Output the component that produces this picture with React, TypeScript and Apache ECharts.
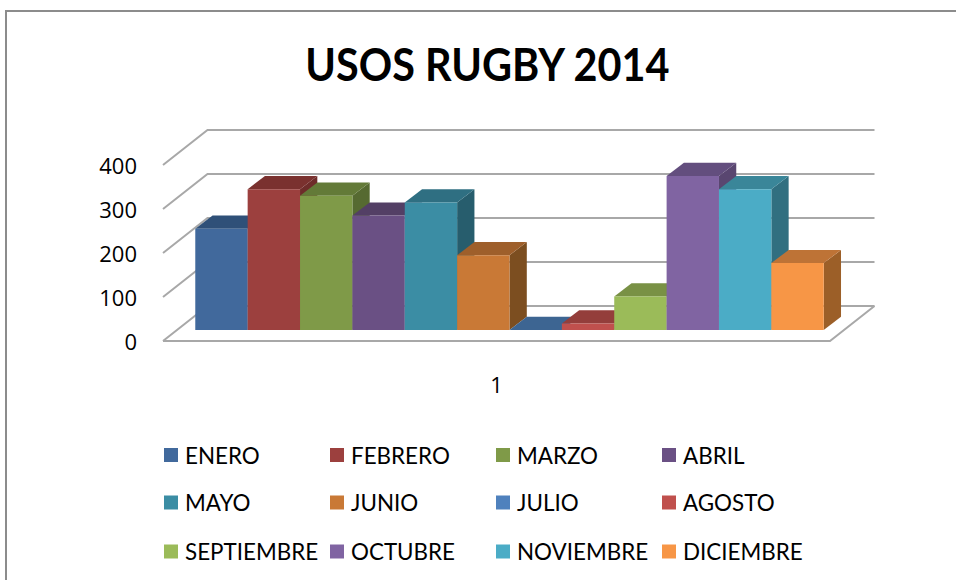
import React, { useEffect, useRef } from "react";
import * as echarts from "echarts";

const TITLE = "USOS RUGBY 2014";
const categories = ["1"];
const months = ["ENERO", "FEBRERO", "MARZO", "ABRIL", "MAYO", "JUNIO", "JULIO", "AGOSTO", "SEPTIEMBRE", "OCTUBRE", "NOVIEMBRE", "DICIEMBRE"];
const values = [230, 320, 305, 260, 290, 170, 0, 15, 76, 350, 320, 152];
const gridTicks = [0, 100, 200, 300, 400];
const frontColors = ["#41699C", "#9C403E", "#7F9A48", "#6A5084", "#3B8DA4", "#C97936", "#4F81BD", "#C0504D", "#9BBB59", "#8064A2", "#4BACC6", "#F79646"];
const topColors = ["#2F5078", "#7A312F", "#637A38", "#533F65", "#2F6F82", "#9E5F2B", "#3D6592", "#943E3B", "#799145", "#634E7E", "#3A8699", "#BE7336"];
const sideColors = ["#2E4D75", "#6E2C2A", "#566A31", "#4A385A", "#275D6D", "#7C4E20", "#35587F", "#84403D", "#6B803D", "#594670", "#316F80", "#9C5F28"];

const LEFT = 163, RIGHT = 830, BOTTOM = 341, PLOT_H = 176;
const WALL_DX = 44.5, WALL_DY = 35;
const BAR_DX = 13, BAR_DY = 11;
const DEPTH_DX = 17.3, DEPTH_DY = 13.2;
const BAR_W = 52.37;
const GRID_COLOR = "#A8A8A8";
const legendX = [164, 330, 496, 662];
const legendY = [444, 491.5, 540.5];

export default function App() {
  const ref = useRef<HTMLDivElement>(null);
  useEffect(() => {
    const chart = echarts.init(ref.current!, undefined, { renderer: "svg" });

    const wallSeries = {
      type: "custom",
      silent: true,
      data: gridTicks.map((t) => [0, t]),
      renderItem: (_p: any, api: any) => {
        const c = api.coord([0, api.value(1)]);
        const children: any[] = [
          { type: "polyline", shape: { points: [[LEFT, c[1]], [LEFT + WALL_DX, c[1] - WALL_DY], [RIGHT + WALL_DX, c[1] - WALL_DY]] }, style: { stroke: GRID_COLOR, lineWidth: 2, fill: "none" } },
        ];
        if (api.value(1) === 0) {
          children.push({ type: "polyline", shape: { points: [[LEFT, c[1]], [RIGHT, c[1]], [RIGHT + WALL_DX, c[1] - WALL_DY]] }, style: { stroke: GRID_COLOR, lineWidth: 2, fill: "none" } });
        }
        return { type: "group", children };
      },
    };

    const barSeries = months.map((name, i) => ({
      type: "custom",
      name,
      itemStyle: { color: frontColors[i] },
      data: [[0, values[i]]],
      renderItem: (_p: any, api: any) => {
        const top = api.coord([0, api.value(1)]);
        const base = api.coord([0, 0]);
        const x0 = top[0] + BAR_DX + (i - 6) * BAR_W;
        const x1 = x0 + BAR_W;
        const y0 = top[1] - BAR_DY;
        const y1 = base[1] - BAR_DY;
        return {
          type: "group",
          children: [
            { type: "polygon", shape: { points: [[x1, y0], [x1 + DEPTH_DX, y0 - DEPTH_DY], [x1 + DEPTH_DX, y1 - DEPTH_DY], [x1, y1]] }, style: { fill: sideColors[i] } },
            { type: "polygon", shape: { points: [[x0, y0], [x0 + DEPTH_DX, y0 - DEPTH_DY], [x1 + DEPTH_DX, y0 - DEPTH_DY], [x1, y0]] }, style: { fill: topColors[i] } },
            { type: "rect", shape: { x: x0, y: y0, width: BAR_W, height: y1 - y0 }, style: { fill: frontColors[i] } },
          ],
        };
      },
    }));

    const legends = months.map((name, i) => ({
      data: [name],
      left: legendX[i % 4],
      top: legendY[Math.floor(i / 4)],
      icon: "rect",
      itemWidth: 14,
      itemHeight: 14,
      itemGap: 0,
      padding: 0,
      selectedMode: false,
      textStyle: { fontFamily: "Lato", fontSize: 22.4, color: "#000", padding: [0, 0, 0, 2] },
    }));

    chart.setOption({
      animation: false,
      backgroundColor: "#fff",
      grid: { left: LEFT, top: BOTTOM - PLOT_H, width: RIGHT - LEFT, height: PLOT_H, containLabel: false },
      xAxis: {
        type: "category",
        data: categories,
        axisLine: { show: false },
        axisTick: { show: false },
        axisLabel: { fontFamily: "Open Sans", fontSize: 22, color: "#000", margin: 32 },
      },
      yAxis: {
        type: "value",
        min: 0,
        max: 400,
        interval: 100,
        axisLine: { show: false },
        axisTick: { show: false },
        splitLine: { show: false },
        axisLabel: { fontFamily: "Open Sans", fontSize: 22, color: "#000", margin: 26, padding: [3, 0, 0, 0] },
      },
      legend: legends,
      graphic: [
        { type: "rect", z: 10, shape: { x: 6, y: 11, width: 1100, height: 1000 }, style: { fill: "none", stroke: "#8C8C8C", lineWidth: 2 }, silent: true },
        { type: "text", z: 10, x: 487.4, y: 63.5, scaleX: 0.9, scaleY: 1, silent: true, style: { text: TITLE, fontFamily: "Lato", fontWeight: "bold", fontSize: 46, fill: "#000", textAlign: "center", textVerticalAlign: "middle" } },
      ],
      series: [wallSeries, ...barSeries],
    });
    return () => chart.dispose();
  }, []);
  return <div ref={ref} style={{ position: "absolute", left: 0, top: 0, width: 956, height: 580 }} />;
}
